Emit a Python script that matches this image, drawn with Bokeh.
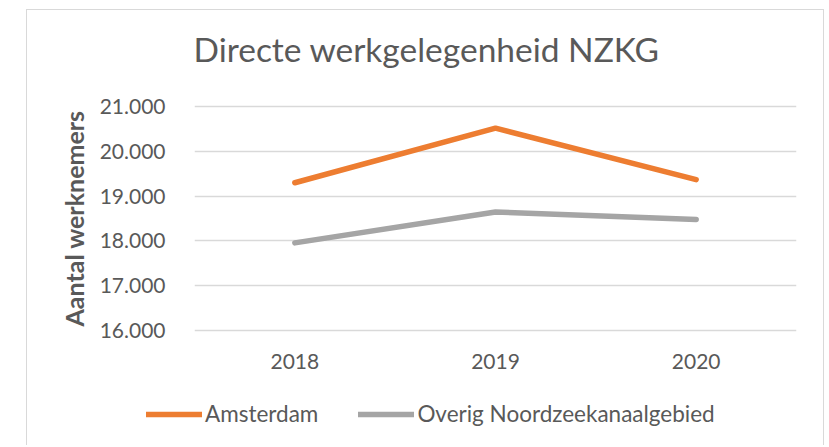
from bokeh.plotting import figure
from bokeh.models import Range1d, FactorRange, FixedTicker, Legend, LegendItem, Title
from bokeh.embed import file_html
from bokeh.resources import INLINE

# ---- data ----
years = ["2018", "2019", "2020"]
amsterdam = [19300, 20520, 19370]
overig = [17955, 18645, 18480]
y_ticks = [16000, 17000, 18000, 19000, 20000, 21000]
y_tick_labels = ["16.000", "17.000", "18.000", "19.000", "20.000", "21.000"]
title_text = "Directe werkgelegenheid NZKG"
y_title = "Aantal werknemers"
series_names = ["Amsterdam", "Overig Noordzeekanaalgebied"]

ORANGE = "#ED7D31"
GREY = "#A5A5A5"
TXT = "#595959"
GRID = "#D9D9D9"
FONT = "Lato"

W = 798
H_MAIN = 380
H_LEG = 56

p = figure(
    width=W, height=H_MAIN,
    x_range=FactorRange(*years, range_padding=0),
    y_range=Range1d(15950, 21050),
    output_backend="svg", toolbar_location=None,
    min_border_left=167, min_border_right=29,
    min_border_top=94, min_border_bottom=H_MAIN - 94 - 228,
)
p.outline_line_color = None
p.background_fill_color = "white"
p.border_fill_color = "white"
p.styles = {
    "margin-left": "26px", "margin-top": "9px",
    "border-left": "1px solid #D9D9D9",
    "border-top": "1px solid #D9D9D9",
    "border-right": "1px solid #D9D9D9",
}

# spacer panel between the frame and the title
spacer = Title(text=" ", text_font_size="1px", standoff=33, text_color="white")
p.add_layout(spacer, "above")
t = Title(text=title_text, align="left", offset=-1,
          text_font=FONT, text_font_size="33.5px", text_font_style="normal",
          text_color=TXT, standoff=0)
p.add_layout(t, "above")

# grid / axes
p.xgrid.grid_line_color = None
p.yaxis.ticker = FixedTicker(ticks=y_ticks)
p.ygrid.ticker = FixedTicker(ticks=y_ticks)
p.ygrid.grid_line_color = GRID
p.ygrid.grid_line_width = 1.3
p.yaxis.major_label_overrides = dict(zip(y_ticks, y_tick_labels))

for ax in (p.xaxis[0], p.yaxis[0]):
    ax.axis_line_color = None
    ax.major_tick_line_color = None
    ax.minor_tick_line_color = None
    ax.major_tick_out = 0
    ax.major_tick_in = 0
    ax.major_label_text_font = FONT
    ax.major_label_text_font_size = "21px"
    ax.major_label_text_color = TXT

p.yaxis.major_label_standoff = 29
p.xaxis.major_label_standoff = 21
p.yaxis.axis_label = y_title
p.yaxis.axis_label_text_font = FONT
p.yaxis.axis_label_text_font_style = "bold"
p.yaxis.axis_label_text_font_size = "25px"
p.yaxis.axis_label_text_color = TXT
p.yaxis.axis_label_standoff = 8

line_kw = dict(line_width=5.5, line_cap="round", line_join="round")
p.line(years, amsterdam, line_color=ORANGE, **line_kw)
p.line(years, overig, line_color=GREY, **line_kw)

# legend strip (its lines sit outside the visible range; only the legend shows)
q = figure(
    width=W, height=H_LEG,
    x_range=FactorRange(*years, range_padding=0),
    y_range=Range1d(0, 1),
    output_backend="svg", toolbar_location=None,
    min_border_left=0, min_border_right=0, min_border_top=0, min_border_bottom=0,
)
q.axis.visible = False
q.grid.visible = False
q.outline_line_color = None
q.border_fill_color = "white"
q.styles = {
    "margin-left": "26px",
    "border-left": "1px solid #D9D9D9",
    "border-right": "1px solid #D9D9D9",
}
l1 = q.line(years, amsterdam, line_color=ORANGE, **line_kw)
l2 = q.line(years, overig, line_color=GREY, **line_kw)

legend = Legend(
    items=[LegendItem(label=series_names[0], renderers=[l1]),
           LegendItem(label=series_names[1], renderers=[l2])],
    orientation="horizontal", location=(119, 18),
    glyph_width=56, glyph_height=24, label_height=24,
    label_standoff=3, spacing=40, padding=0, margin=0,
    label_text_font=FONT, label_text_font_size="22.5px",
    label_text_color=TXT, border_line_color=None,
    background_fill_alpha=0,
)
q.add_layout(legend, "center")

open("out.html", "w").write(file_html((p, q), INLINE))
